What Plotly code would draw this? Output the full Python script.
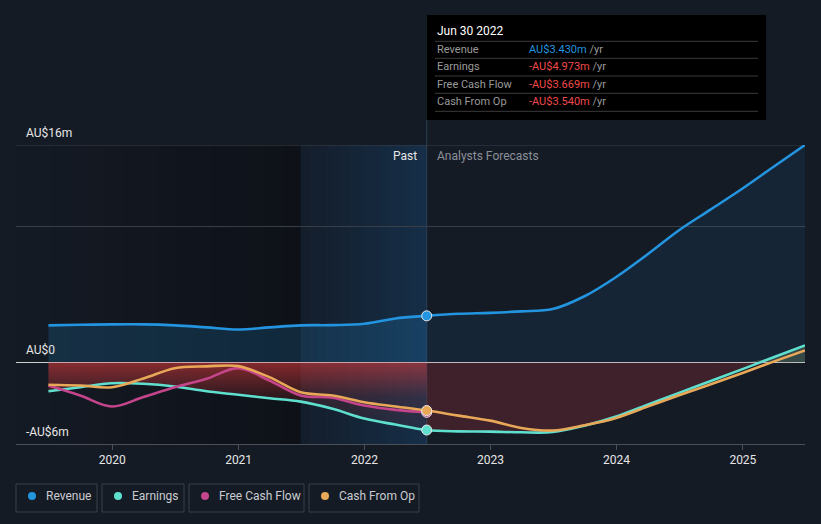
import numpy as np
import plotly.graph_objects as go

# ---------------- data (AU$ millions) ----------------
past_dates = ['2019-06-30', '2019-09-30', '2019-12-31', '2020-03-31', '2020-06-30',
              '2020-09-30', '2020-12-31', '2021-03-31', '2021-06-30', '2021-09-30',
              '2021-12-31', '2022-03-31', '2022-06-30']
revenue_past = [2.73, 2.77, 2.80, 2.80, 2.73, 2.58, 2.43, 2.58, 2.73, 2.75, 2.85, 3.24, 3.43]
earnings_past = [-2.12, -1.82, -1.53, -1.57, -1.77, -2.12, -2.38, -2.63, -2.88, -3.41, -4.13, -4.57, -4.973]
fcf_past = [-1.70, -2.43, -3.24, -2.54, -1.82, -1.20, -0.42, -1.33, -2.43, -2.60, -3.17, -3.49, -3.669]
cfo_past = [-1.64, -1.70, -1.82, -1.18, -0.42, -0.29, -0.27, -1.08, -2.19, -2.43, -2.93, -3.24, -3.54]

future_dates = ['2022-06-30', '2022-09-30', '2022-12-31', '2023-03-31', '2023-06-30',
                '2023-09-30', '2023-12-31', '2024-03-31', '2024-06-30', '2024-09-30',
                '2024-12-31', '2025-03-31', '2025-06-30']
revenue_future = [3.43, 3.58, 3.65, 3.76, 3.93, 4.87, 6.29, 7.96, 9.73, 11.26, 12.8, 14.4, 16.0]
earnings_future = [-4.973, -5.07, -5.09, -5.14, -5.12, -4.65, -3.98, -3.11, -2.24, -1.36, -0.49, 0.38, 1.25]
cfo_future = [-3.54, -3.91, -4.28, -4.82, -5.01, -4.62, -4.08, -3.25, -2.42, -1.60, -0.77, 0.06, 0.88]

series_names = ['Revenue', 'Earnings', 'Free Cash Flow', 'Cash From Op']
series_colors = ['#2394df', '#5fe0cf', '#c4458c', '#e8a858']
tooltip_date = 'Jun 30 2022'
tooltip_values = ['AU$3.430m', '-AU$4.973m', '-AU$3.669m', '-AU$3.540m']
y_labels = ['AU$16m', 'AU$0', '-AU$6m']
y_label_vals = [16, 0, -6]
grid_vals = [10, 16]

# ---------------- geometry helpers ----------------
L, R, T, B = 16, 16, 145, 80
W, H = 821, 524
PW, PH = W - L - R, H - T - B


def px(x):
    return (x - L) / PW


def py(y):
    return (H - B - y) / PH


BG = '#151b25'
FONT = 'Roboto'
X_START, X_END = '2019-03-28', '2025-06-30'
SPLIT = '2022-06-30'
PAST_HL = '2021-06-30'

fig = go.Figure()

# revenue fills
fig.add_trace(go.Scatter(x=past_dates, y=revenue_past, mode='lines', line=dict(width=0, shape='spline'),
                         fill='tozeroy', fillcolor='rgba(35,148,223,0.18)', hoverinfo='skip', showlegend=False))
fig.add_trace(go.Scatter(x=future_dates, y=revenue_future, mode='lines', line=dict(width=0, shape='spline'),
                         fill='tozeroy', fillcolor='rgba(35,148,223,0.09)', hoverinfo='skip', showlegend=False))

# earnings fills
fig.add_trace(go.Scatter(x=past_dates, y=earnings_past, mode='lines', line=dict(width=0, shape='spline'),
                         fill='tozeroy',
                         fillgradient=dict(type='vertical', start=-5, stop=0,
                                           colorscale=[[0, 'rgba(230,60,60,0.06)'],
                                                       [0.5, 'rgba(230,60,60,0.14)'],
                                                       [1, 'rgba(230,60,60,0.55)']]),
                         hoverinfo='skip', showlegend=False))
ef = np.array(earnings_future)
fig.add_trace(go.Scatter(x=future_dates, y=np.minimum(ef, 0), mode='lines', line=dict(width=0, shape='spline'),
                         fill='tozeroy', fillcolor='rgba(180,50,60,0.26)', hoverinfo='skip', showlegend=False))
fig.add_trace(go.Scatter(x=future_dates, y=np.maximum(ef, 0), mode='lines', line=dict(width=0, shape='spline'),
                         fill='tozeroy', fillcolor='rgba(130,160,120,0.30)', hoverinfo='skip', showlegend=False))

# lines
LW = 2.6
fig.add_trace(go.Scatter(x=past_dates + future_dates[1:], y=revenue_past + revenue_future[1:], mode='lines',
                         line=dict(color=series_colors[0], width=LW, shape='spline'), hoverinfo='skip', showlegend=False))
fig.add_trace(go.Scatter(x=past_dates + future_dates[1:], y=earnings_past + earnings_future[1:], mode='lines',
                         line=dict(color=series_colors[1], width=LW, shape='spline'), hoverinfo='skip', showlegend=False))
fig.add_trace(go.Scatter(x=past_dates, y=fcf_past, mode='lines',
                         line=dict(color=series_colors[2], width=LW, shape='spline'), hoverinfo='skip', showlegend=False))
fig.add_trace(go.Scatter(x=past_dates + future_dates[1:], y=cfo_past + cfo_future[1:], mode='lines',
                         line=dict(color=series_colors[3], width=LW, shape='spline'), hoverinfo='skip', showlegend=False))

# markers at the split date
for val, col in [(revenue_past[-1], series_colors[0]), (earnings_past[-1], series_colors[1]),
                 (fcf_past[-1], series_colors[2]), (cfo_past[-1], series_colors[3])]:
    fig.add_trace(go.Scatter(x=[SPLIT], y=[val], mode='markers',
                             marker=dict(color=col, size=10, line=dict(color='#e8e8e8', width=1)),
                             hoverinfo='skip', showlegend=False))

shapes = []
# dark gradient on the early past region
n = 16
d0 = np.datetime64(X_START)
d1 = np.datetime64(PAST_HL)
span = (d1 - d0)
for i in range(n):
    a = d0 + span * i // n
    b = d0 + span * (i + 1) // n
    shapes.append(dict(type='rect', xref='x', yref='paper', x0=str(a), x1=str(b), y0=0, y1=1,
                       fillcolor='rgba(0,0,0,%.3f)' % (0.34 * (i + 0.5) / n), line=dict(width=0), layer='below'))
# past highlight
d2 = np.datetime64(SPLIT)
span2 = d2 - d1
for i in range(n):
    a = d1 + span2 * i // n
    b = d1 + span2 * (i + 1) // n
    shapes.append(dict(type='rect', xref='x', yref='paper', x0=str(a), x1=str(b), y0=0, y1=1,
                       fillcolor='rgba(25,85,140,%.3f)' % (0.05 + 0.30 * (i + 0.5) / n), line=dict(width=0),
                       layer='below'))

# horizontal grid lines
for gv in grid_vals:
    shapes.append(dict(type='line', xref='paper', yref='y', x0=0, x1=1, y0=gv, y1=gv,
                       line=dict(color='#3a404a', width=1), layer='below'))

# vertical split line
shapes.append(dict(type='line', xref='x', yref='paper', x0=SPLIT, x1=SPLIT, y0=0, y1=py(120),
                   line=dict(color='#2b3f55', width=1), layer='below'))

# tooltip box
shapes.append(dict(type='rect', xref='paper', yref='paper', x0=px(427), x1=px(766), y0=py(120), y1=py(15),
                   fillcolor='#000000', line=dict(width=0)))
for yy in [41.3, 58.3, 76, 93.3, 111.3]:
    shapes.append(dict(type='line', xref='paper', yref='paper', x0=px(435), x1=px(758), y0=py(yy), y1=py(yy),
                       line=dict(color='#3b3b3b', width=1)))

# legend boxes
legend_boxes = [(16, 97), (102, 184), (189, 304), (309, 419)]
legend_dots = [32, 118, 205, 325]
legend_text_x = [44, 130, 217, 337]
for (x0, x1), dx, col in zip(legend_boxes, legend_dots, series_colors):
    shapes.append(dict(type='rect', xref='paper', yref='paper', x0=px(x0), x1=px(x1), y0=py(512), y1=py(484),
                       fillcolor='rgba(0,0,0,0)', line=dict(color='#3a404a', width=1)))
    shapes.append(dict(type='circle', xref='paper', yref='paper', xsizemode='pixel', ysizemode='pixel',
                       xanchor=px(dx), yanchor=py(496), x0=-4, x1=4, y0=-4, y1=4,
                       fillcolor=col, line=dict(width=0)))

annotations = []
for name, tx in zip(series_names, legend_text_x):
    annotations.append(dict(xref='paper', yref='paper', x=px(tx), y=py(496), text=name, showarrow=False,
                            xanchor='left', yanchor='middle', font=dict(family=FONT, size=12, color='#c9cbd0')))

# y labels
for lab, v in zip(y_labels, y_label_vals):
    ypix = (H - B) - (v + 6) / 22 * PH
    annotations.append(dict(xref='paper', yref='paper', x=px(24), y=py(ypix - 12), text=lab, showarrow=False,
                            xanchor='left', yanchor='middle', font=dict(family=FONT, size=12, color='#e6e6e6')))

# past / forecasts labels
annotations.append(dict(xref='paper', yref='paper', x=px(419), y=py(156), text='Past', showarrow=False,
                        xanchor='right', yanchor='middle', font=dict(family=FONT, size=12, color='#e6e6e6')))
annotations.append(dict(xref='paper', yref='paper', x=px(435), y=py(156), text='Analysts Forecasts',
                        showarrow=False, xanchor='left', yanchor='middle',
                        font=dict(family=FONT, size=12, color='#8b9099')))

# tooltip text
annotations.append(dict(xref='paper', yref='paper', x=px(435), y=py(31), text=tooltip_date, showarrow=False,
                        xanchor='left', yanchor='middle', font=dict(family=FONT, size=12, color='#ffffff')))
row_y = [49.3, 66.7, 84.3, 101.7]
val_colors = ['#2394df', '#f04a4a', '#f04a4a', '#f04a4a']
for name, v, vc, yy in zip(series_names, tooltip_values, val_colors, row_y):
    annotations.append(dict(xref='paper', yref='paper', x=px(435), y=py(yy), text=name, showarrow=False,
                            xanchor='left', yanchor='middle', font=dict(family=FONT, size=11, color='#9a9a9a')))
    annotations.append(dict(xref='paper', yref='paper', x=px(527), y=py(yy),
                            text='<span style="color:%s">%s</span> /yr' % (vc, v), showarrow=False,
                            xanchor='left', yanchor='middle', font=dict(family=FONT, size=11, color='#9a9a9a')))

fig.update_layout(
    width=W, height=H,
    margin=dict(l=L, r=R, t=T, b=B, autoexpand=False),
    paper_bgcolor=BG, plot_bgcolor=BG,
    showlegend=False,
    shapes=shapes, annotations=annotations,
    font=dict(family=FONT, size=12, color='#e6e6e6'),
    xaxis=dict(type='date', range=[X_START, X_END], showgrid=False, zeroline=False,
               tickvals=['2020-01-01', '2021-01-01', '2022-01-01', '2023-01-01', '2024-01-01', '2025-01-01'],
               ticktext=['2020', '2021', '2022', '2023', '2024', '2025'],
               ticks='outside', ticklen=5, tickcolor='#4a4f58', showline=True, linecolor='#4a4f58',
               linewidth=1, tickfont=dict(family=FONT, size=12, color='#e6e6e6'), fixedrange=True),
    yaxis=dict(range=[-6, 16], showticklabels=False, showgrid=False,
               zeroline=True, zerolinecolor='#cfcfcf', zerolinewidth=1,
               showline=False, fixedrange=True),
)

fig.write_html('out.html', config={'displayModeBar': False},
               post_script="document.body.style.margin='0';document.body.style.background='%s';" % BG)
